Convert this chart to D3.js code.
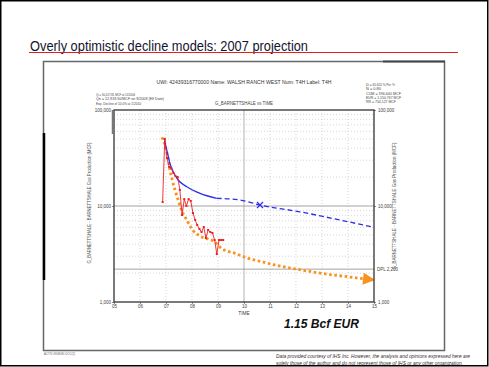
<!DOCTYPE html>
<html>
<head>
<meta charset="utf-8">
<script src="https://d3js.org/d3.v7.min.js"></script>
<style>
    body { margin: 0; background: #fff; }
    text { font-family: "Liberation Sans", Arial, sans-serif; }
</style>
</head>
<body>
<div id="chart-area"></div>
<script>
// actual monthly production (MCF)
var prodDates = ["2006-11-15","2006-12-15","2007-01-15","2007-02-15","2007-03-15","2007-04-15","2007-05-15",
    "2007-06-15","2007-07-15","2007-08-15","2007-09-15","2007-10-15","2007-11-15","2007-12-15","2008-01-15",
    "2008-02-15","2008-03-15","2008-04-15","2008-05-15","2008-06-15","2008-07-15","2008-08-15","2008-09-15",
    "2008-10-15","2008-11-15","2008-12-15","2009-01-15","2009-02-15","2009-03-15"];
var prodValues = [11000, 49900, 31600, 25500, 24900, 22100, 20500, 20000, 14700, 8060, 11800, 10000, 11800,
    11300, 8450, 7150, 6340, 5760, 5360, 6040, 4640, 5620, 5360, 5230, 4420, 3160, 4420, 4420, 4420];

// 2007 hyperbolic projection (blue): fitted part + forecast
var fitDates = ["2006-12-08","2007-01-01","2007-02-03","2007-02-25","2007-04-13","2007-06-21","2007-10-20",
    "2008-04-23","2008-12-13"];
var fitValues = [50700, 41500, 32660, 27860, 22750, 18660, 15890, 13550, 12030];
var forecastDates = ["2008-12-13","2009-11-06","2010-08-14","2012-02-24","2013-09-09","2015-01-01"];
var forecastValues = [12030, 11550, 10240, 8700, 7150, 6000];
var markDate = "2010-08-14", markValue = 10240;

// revised decline (orange)
var revDates = ["2006-11-05","2006-12-17","2007-02-03","2007-02-25","2007-03-30","2007-05-08","2007-06-21",
    "2007-08-08","2007-10-20","2008-01-11","2008-04-23","2008-11-17","2009-02-20","2009-08-25","2010-03-03",
    "2010-09-05","2011-03-10","2011-09-12","2012-03-20","2012-09-23","2013-03-28","2013-10-01","2014-04-08",
    "2015-01-15"];
var revValues = [52000, 43150, 30130, 23710, 18660, 14680, 11550, 9090, 7150, 5620, 4870, 4220, 3620, 3215,
    2850, 2630, 2430, 2276, 2154, 2038, 1944, 1866, 1791, 1695];

var econLimit = 2200;
var yearTicks = ["2005","2006","2007","2008","2009","2010","2011","2012","2013","2014","2015"];
var yTicks = [1000, 10000, 100000];

var width = 489, height = 367;
var parse = d3.timeParse("%Y-%m-%d");
var parseYear = d3.timeParse("%Y");

var svg = d3.select("#chart-area").append("svg")
    .attr("width", width)
    .attr("height", height);

// slide frame
svg.append("rect")
    .attr("x", 0.75).attr("y", 0.75)
    .attr("width", width - 2).attr("height", height - 2)
    .style("fill", "#fff").style("stroke", "#000").style("stroke-width", 1.5);

svg.append("text")
    .attr("x", 30).attr("y", 50.5)
    .attr("textLength", 278).attr("lengthAdjust", "spacingAndGlyphs")
    .style("font-size", "14px").style("fill", "#141430")
    .text("Overly optimistic decline models:  2007 projection");

svg.append("line")
    .attr("x1", 29).attr("x2", 458).attr("y1", 52.5).attr("y2", 52.5)
    .style("stroke", "#e0201c").style("stroke-width", 1);

// pasted image box
svg.append("rect")
    .attr("x", 43.5).attr("y", 61.5).attr("width", 401).attr("height", 289)
    .style("fill", "#fff").style("stroke", "#666").style("stroke-width", 1.5);
svg.append("line")
    .attr("x1", 383).attr("x2", 445).attr("y1", 61.5).attr("y2", 61.5)
    .style("stroke", "#444").style("stroke-width", 2);
svg.append("line")
    .attr("x1", 44).attr("x2", 44).attr("y1", 133).attr("y2", 280)
    .style("stroke", "#000").style("stroke-width", 2.5);

var x = d3.scaleTime()
    .domain([parseYear("2005"), parseYear("2015")])
    .range([114, 374]);

var y = d3.scaleLog()
    .domain([1000, 100000])
    .range([302, 110]);

var g = svg.append("g");

// grid
var minor = [];
[1000, 10000].forEach(function(d) {
    for (var k = 2; k < 10; k++) minor.push(d * k);
});
g.selectAll(".hgrid").data(minor).enter().append("line")
    .attr("x1", x.range()[0]).attr("x2", x.range()[1])
    .attr("y1", function(d) { return y(d); }).attr("y2", function(d) { return y(d); })
    .style("stroke", "#bbb").style("stroke-width", 0.6).style("stroke-dasharray", "1,2");

g.selectAll(".vgrid").data(yearTicks.slice(1, -1)).enter().append("line")
    .attr("x1", function(d) { return x(parseYear(d)); }).attr("x2", function(d) { return x(parseYear(d)); })
    .attr("y1", y.range()[1]).attr("y2", y.range()[0])
    .style("stroke", function(d) { return d == "2010" ? "#aaa" : "#bbb"; })
    .style("stroke-width", function(d) { return d == "2010" ? 0.9 : 0.6; })
    .style("stroke-dasharray", function(d) { return d == "2010" ? null : "1,2"; });

g.append("line")
    .attr("x1", x.range()[0]).attr("x2", x.range()[1])
    .attr("y1", y(10000)).attr("y2", y(10000))
    .style("stroke", "#999").style("stroke-width", 0.9);
g.append("line")
    .attr("x1", x.range()[0]).attr("x2", x.range()[1])
    .attr("y1", y(econLimit)).attr("y2", y(econLimit))
    .style("stroke", "#999").style("stroke-width", 0.9);

// axes
var xAxis = d3.axisBottom(x)
    .tickValues(yearTicks.map(parseYear))
    .tickFormat(d3.timeFormat("%y"))
    .tickSize(2).tickPadding(1);
var gx = svg.append("g").attr("transform", "translate(0," + y.range()[0] + ")").call(xAxis);

var yAxisL = d3.axisLeft(y).tickValues(yTicks).tickFormat(d3.format(",")).tickSize(2).tickPadding(1);
var yAxisR = d3.axisRight(y).tickValues(yTicks).tickFormat(d3.format(",")).tickSize(2).tickPadding(2);
var gl = svg.append("g").attr("transform", "translate(" + x.range()[0] + ",0)").call(yAxisL);
var gr = svg.append("g").attr("transform", "translate(" + x.range()[1] + ",0)").call(yAxisR);

[gx, gl, gr].forEach(function(a) {
    a.select(".domain").remove();
    a.selectAll("text").style("font-size", "4.5px").style("fill", "#444");
    a.selectAll("line").style("stroke", "#444").style("stroke-width", 0.6);
});

svg.append("text")
    .attr("x", x.range()[1] + 3).attr("y", y(econLimit) + 1.5)
    .style("font-size", "4.5px").style("fill", "#444")
    .text("DPL 2,200");

// plot frame
svg.append("rect")
    .attr("x", x.range()[0]).attr("y", y.range()[1])
    .attr("width", x.range()[1] - x.range()[0]).attr("height", y.range()[0] - y.range()[1])
    .style("fill", "none").style("stroke", "#333").style("stroke-width", 1.3);
svg.append("line")
    .attr("x1", 113).attr("x2", 113).attr("y1", 110).attr("y2", 134)
    .style("stroke", "#777").style("stroke-width", 2.5);

// labels
var axisTitle = "G_BARNETTSHALE - BARNETTSHALE Gas Production (MCF)";
svg.append("text")
    .attr("transform", "translate(91,203)rotate(-90)")
    .attr("text-anchor", "middle")
    .attr("textLength", 121).attr("lengthAdjust", "spacingAndGlyphs")
    .style("font-size", "5px").style("fill", "#555")
    .text(axisTitle);
svg.append("text")
    .attr("transform", "translate(396,206)rotate(-90)")
    .attr("text-anchor", "middle")
    .attr("textLength", 127).attr("lengthAdjust", "spacingAndGlyphs")
    .style("font-size", "5px").style("fill", "#555")
    .text(axisTitle);

svg.append("text")
    .attr("x", 244).attr("y", 314.5).attr("text-anchor", "middle")
    .style("font-size", "4.8px").style("fill", "#444")
    .text("TIME");

svg.append("text")
    .attr("x", 244).attr("y", 84).attr("text-anchor", "middle")
    .attr("textLength", 175).attr("lengthAdjust", "spacingAndGlyphs")
    .style("font-size", "5.5px").style("fill", "#333")
    .text("UWI: 42439316770000   Name: WALSH RANCH WEST    Num: T4H   Label: T4H");

svg.append("text")
    .attr("x", 244).attr("y", 105).attr("text-anchor", "middle")
    .attr("textLength", 58).attr("lengthAdjust", "spacingAndGlyphs")
    .style("font-size", "5px").style("fill", "#444")
    .text("G_BARNETTSHALE vs TIME");

var leftInfo = ["Qi = 50,417.81 MCF at 11/2006", "Qn = 12,918.50/MCF on 9/2008 (Eff Date)", "Exp. Decline of 10.0% at 1/2010"];
var leftLen = [39, 68, 45];
svg.selectAll(".linfo").data(leftInfo).enter().append("text")
    .attr("x", 96).attr("y", function(d, i) { return 95.5 + i * 4.6; })
    .attr("textLength", function(d, i) { return leftLen[i]; }).attr("lengthAdjust", "spacingAndGlyphs")
    .style("font-size", "4.2px").style("fill", "#444")
    .text(function(d) { return d; });

var rightInfo = ["Di = 65.620 % Per Yr", "N = 0.80", "CUM = 396,640 MCF", "EUR = 1,150,767 MCF", "RR = 754,127 MCF"];
var rightLen = [29, 15, 35, 35, 30];
svg.selectAll(".rinfo").data(rightInfo).enter().append("text")
    .attr("x", 366).attr("y", function(d, i) { return 86 + i * 4.3; })
    .attr("textLength", function(d, i) { return rightLen[i]; }).attr("lengthAdjust", "spacingAndGlyphs")
    .style("font-size", "4px").style("fill", "#444")
    .text(function(d) { return d; });

// series
var line = d3.line()
    .x(function(d) { return x(d.date); })
    .y(function(d) { return y(d.value); });
var smooth = d3.line()
    .curve(d3.curveMonotoneX)
    .x(function(d) { return x(d.date); })
    .y(function(d) { return y(d.value); });

function zip(dates, values) {
    return dates.map(function(d, i) { return {date: parse(d), value: values[i]}; });
}
var prod = zip(prodDates, prodValues);
var fit = zip(fitDates, fitValues);
var forecast = zip(forecastDates, forecastValues);
var rev = zip(revDates, revValues);

svg.append("defs").append("marker")
    .attr("id", "arrow")
    .attr("markerUnits", "userSpaceOnUse")
    .attr("viewBox", "0 0 12 12")
    .attr("markerWidth", 13).attr("markerHeight", 12)
    .attr("refX", 12).attr("refY", 6)
    .attr("orient", "auto")
    .append("path")
    .attr("d", "M0,0L12,6L0,12Z")
    .style("fill", "#f7931e");

g.append("path")
    .datum(rev)
    .attr("d", smooth)
    .attr("marker-end", "url(#arrow)")
    .style("fill", "none").style("stroke", "#f7931e")
    .style("stroke-width", 2.8).style("stroke-dasharray", "2.6,2.6");

g.append("path")
    .datum(fit)
    .attr("d", smooth)
    .style("fill", "none").style("stroke", "#2e2ef0").style("stroke-width", 1.3);
g.append("path")
    .datum(forecast)
    .attr("d", smooth)
    .style("fill", "none").style("stroke", "#2e2ef0").style("stroke-width", 1.3)
    .style("stroke-dasharray", "5,3");

var mx = x(parse(markDate)), my = y(markValue);
g.append("path")
    .attr("d", "M" + (mx - 3) + "," + (my - 3) + "L" + (mx + 3) + "," + (my + 3) +
        "M" + (mx - 3) + "," + (my + 3) + "L" + (mx + 3) + "," + (my - 3))
    .style("stroke", "#2e2ef0").style("stroke-width", 1.2);

g.append("path")
    .datum(prod)
    .attr("d", line)
    .style("fill", "none").style("stroke", "#ec2024").style("stroke-width", 0.9);
g.selectAll(".pt").data(prod).enter().append("rect")
    .attr("class", "pt")
    .attr("x", function(d) { return x(d.date) - 1; })
    .attr("y", function(d) { return y(d.value) - 1; })
    .attr("width", 2).attr("height", 2)
    .style("fill", "#ec2024");

// annotation + footer
svg.append("text")
    .attr("x", 284).attr("y", 328)
    .attr("textLength", 75).attr("lengthAdjust", "spacingAndGlyphs")
    .style("font-size", "12.5px").style("font-weight", "bold").style("font-style", "italic")
    .style("fill", "#111")
    .text("1.15 Bcf EUR");

svg.append("text")
    .attr("x", 44).attr("y", 355)
    .attr("textLength", 31).attr("lengthAdjust", "spacingAndGlyphs")
    .style("font-size", "3.5px").style("fill", "#666")
    .text("ACTIV 0908080 DOC(2)");

var footer = ["Data provided courtesy of IHS Inc. However, the analysis and opinions expressed here are",
    "solely those of the author and do not represent those of IHS or any other organization."];
var footLen = [194, 187];
svg.selectAll(".foot").data(footer).enter().append("text")
    .attr("x", 276).attr("y", function(d, i) { return 358 + i * 6.5; })
    .attr("textLength", function(d, i) { return footLen[i]; }).attr("lengthAdjust", "spacingAndGlyphs")
    .style("font-size", "5.2px").style("font-style", "italic").style("fill", "#333")
    .text(function(d) { return d; });
</script>
</body>
</html>
